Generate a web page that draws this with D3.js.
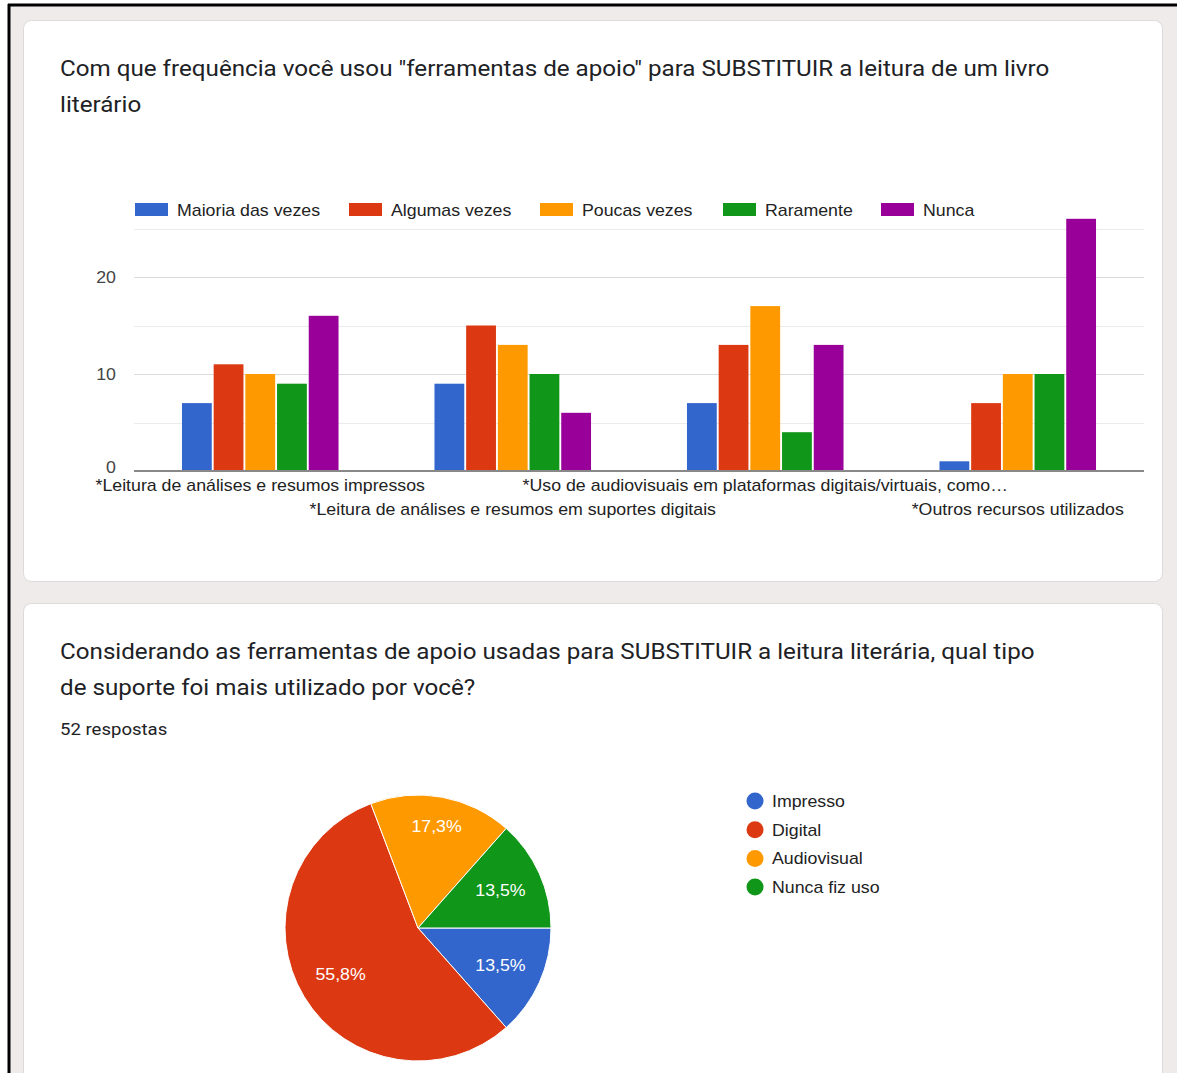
<!DOCTYPE html>
<html>
<head>
<meta charset="utf-8">
<script src="https://cdn.jsdelivr.net/npm/d3@7"></script>
<style>
  html, body { margin: 0; padding: 0; background: #fff; }
  svg { display: block; }
</style>
</head>
<body>
<svg id="page" width="1177" height="1073"></svg>
<script>
// ---- Bar chart data ----
const barTitle = ['Com que frequência você usou "ferramentas de apoio" para SUBSTITUIR a leitura de um livro', 'literário'];
const categories = [
  '*Leitura de análises e resumos impressos',
  '*Leitura de análises e resumos em suportes digitais',
  '*Uso de audiovisuais em plataformas digitais/virtuais, como…',
  '*Outros recursos utilizados'
];
const seriesNames = ['Maioria das vezes', 'Algumas vezes', 'Poucas vezes', 'Raramente', 'Nunca'];
const maioria = [7, 9, 7, 1];
const algumas = [11, 15, 13, 7];
const poucas = [10, 13, 17, 10];
const raramente = [9, 10, 4, 10];
const nunca = [16, 6, 13, 26];
const yTicks = [0, 10, 20];
const yGrid = [5, 15, 25];

// ---- Pie chart data ----
const pieTitle = ['Considerando as ferramentas de apoio usadas para SUBSTITUIR a leitura literária, qual tipo', 'de suporte foi mais utilizado por você?'];
const pieSubtitle = '52 respostas';
const pieLabels = ['Impresso', 'Digital', 'Audiovisual', 'Nunca fiz uso'];
const pieValues = [7, 29, 9, 7];

const palette = ['#3366cc', '#dc3912', '#ff9900', '#109618', '#990099'];
const seriesValues = [maioria, algumas, poucas, raramente, nunca];

const svg = d3.select('#page');

// Wide text: glyphs are drawn slightly stretched horizontally around their anchor point
const TEXT_SX = 1.11;
const TITLE_SX = 1.125;
function placeText(sel, xf, yf, sx) {
  return sel.attr('transform', (d, i) => `translate(${typeof xf === 'function' ? xf(d, i) : xf},${typeof yf === 'function' ? yf(d, i) : yf}) scale(${sx},1)`);
}

// Page background, frame and cards
svg.append('rect').attr('x', 10).attr('y', 6).attr('width', 1167).attr('height', 1067).attr('fill', '#eeebea');
svg.append('line').attr('x1', 9).attr('x2', 9).attr('y1', 4).attr('y2', 1073).attr('stroke', '#000').attr('stroke-width', 3);
svg.append('line').attr('x1', 8).attr('x2', 1177).attr('y1', 5).attr('y2', 5).attr('stroke', '#000').attr('stroke-width', 3);

function card(y, h) {
  svg.append('rect').attr('x', 23.5).attr('y', y + 0.5).attr('width', 1139).attr('height', h)
    .attr('rx', 8).attr('fill', '#fff').attr('stroke', '#dcdadb').attr('stroke-width', 1);
}
card(20, 561);
card(603, 520);

const titleFont = 'Roboto, "Noto Sans", sans-serif';
const chartFont = '"Liberation Sans", Arial, sans-serif';

function titleLines(lines, y0) {
  svg.append('g').selectAll('text').data(lines).join('text')
    .call(placeText, 60, (d, i) => y0 + i * 36, TITLE_SX)
    .attr('font-family', titleFont).attr('font-size', 21.5).attr('fill', '#202124')
    .text(d => d);
}
titleLines(barTitle, 76);

// ---- Bar chart ----
const plotLeft = 134, plotRight = 1144;
const y = d3.scaleLinear().domain([0, 25]).range([471, 228.5]);
const x0 = d3.scaleBand().domain(categories).range([plotLeft, plotRight]);
const bw = x0.bandwidth();
const x1 = d3.scaleBand().domain(seriesNames).range([bw * 0.19, bw * 0.81]).paddingInner(0.06);
const color = d3.scaleOrdinal().domain(seriesNames).range(palette);

const g = svg.append('g');

// gridlines
g.selectAll('line.minor').data(yGrid).join('line')
  .attr('x1', plotLeft).attr('x2', plotRight)
  .attr('y1', d => Math.round(y(d)) + 0.5).attr('y2', d => Math.round(y(d)) + 0.5)
  .attr('stroke', '#ebebeb');
g.selectAll('line.major').data(yTicks.filter(d => d > 0)).join('line')
  .attr('x1', plotLeft).attr('x2', plotRight)
  .attr('y1', d => Math.round(y(d)) + 0.5).attr('y2', d => Math.round(y(d)) + 0.5)
  .attr('stroke', '#dcdcdc');

// y tick labels
g.selectAll('text.ytick').data(yTicks).join('text')
  .call(placeText, 116, d => d === 0 ? y(d) + 2 : y(d) + 6, TEXT_SX)
  .attr('text-anchor', 'end')
  .attr('font-family', chartFont).attr('font-size', 16).attr('fill', '#444')
  .text(d => d);

// bars
const groups = g.selectAll('g.grp').data(categories).join('g')
  .attr('transform', d => `translate(${x0(d)},0)`);
groups.selectAll('rect').data((c, ci) => seriesNames.map((s, si) => ({ s, v: seriesValues[si][ci] }))).join('rect')
  .attr('x', d => x1(d.s)).attr('width', x1.bandwidth())
  .attr('y', d => y(d.v)).attr('height', d => y(0) - y(d.v))
  .attr('fill', d => color(d.s));

// baseline
g.append('line').attr('x1', plotLeft).attr('x2', plotRight).attr('y1', y(0)).attr('y2', y(0))
  .attr('stroke', '#888').attr('stroke-width', 2);

// category labels, staggered on two rows
g.selectAll('text.cat').data(categories).join('text')
  .call(placeText, d => x0(d) + bw / 2, (d, i) => i % 2 === 0 ? 491 : 515, TEXT_SX)
  .attr('text-anchor', 'middle')
  .attr('font-family', chartFont).attr('font-size', 16).attr('fill', '#222')
  .text(d => d);

// legend
const legendX = [135, 349, 540, 723, 881];
const leg = g.selectAll('g.leg').data(seriesNames).join('g')
  .attr('transform', (d, i) => `translate(${legendX[i]},203)`);
leg.append('rect').attr('width', 33).attr('height', 13).attr('fill', d => color(d));
leg.append('text').call(placeText, 42, 13, TEXT_SX)
  .attr('font-family', chartFont).attr('font-size', 16).attr('fill', '#222')
  .text(d => d);

// ---- Pie chart ----
titleLines(pieTitle, 659);
svg.append('text').call(placeText, 60, 735, TITLE_SX)
  .attr('font-family', titleFont).attr('font-size', 16.5)
  .attr('fill', '#202124').text(pieSubtitle);

const pieColor = d3.scaleOrdinal().domain(pieLabels).range(palette);
const total = d3.sum(pieValues);
const pie = d3.pie().sort(null).startAngle(Math.PI / 2).endAngle(Math.PI / 2 + 2 * Math.PI);
const arcs = pie(pieValues);
const radius = 133;
const arc = d3.arc().innerRadius(0).outerRadius(radius);
// relative label distance from the centre for each slice
const labelDist = [0.68, 0.68, 0.775, 0.68];

const pg = svg.append('g').attr('transform', 'translate(418,928)');
pg.selectAll('path').data(arcs).join('path')
  .attr('d', arc)
  .attr('fill', (d, i) => pieColor(pieLabels[i]))
  .attr('stroke', '#fff').attr('stroke-width', 1);
pg.selectAll('text').data(arcs).join('text')
  .call(placeText,
    (d, i) => d3.arc().innerRadius(radius * labelDist[i]).outerRadius(radius * labelDist[i]).centroid(d)[0],
    (d, i) => d3.arc().innerRadius(radius * labelDist[i]).outerRadius(radius * labelDist[i]).centroid(d)[1],
    TEXT_SX)
  .attr('text-anchor', 'middle').attr('dy', '0.35em')
  .attr('font-family', chartFont).attr('font-size', 16).attr('fill', '#fff')
  .text(d => (d.value / total * 100).toFixed(1).replace('.', ',') + '%');

const pl = svg.selectAll('g.pleg').data(pieLabels).join('g')
  .attr('transform', (d, i) => `translate(755,${801 + i * 28.7})`);
pl.append('circle').attr('r', 8.5).attr('fill', d => pieColor(d));
pl.append('text').call(placeText, 17, 6, TEXT_SX)
  .attr('font-family', chartFont).attr('font-size', 16).attr('fill', '#222')
  .text(d => d);
</script>
</body>
</html>
